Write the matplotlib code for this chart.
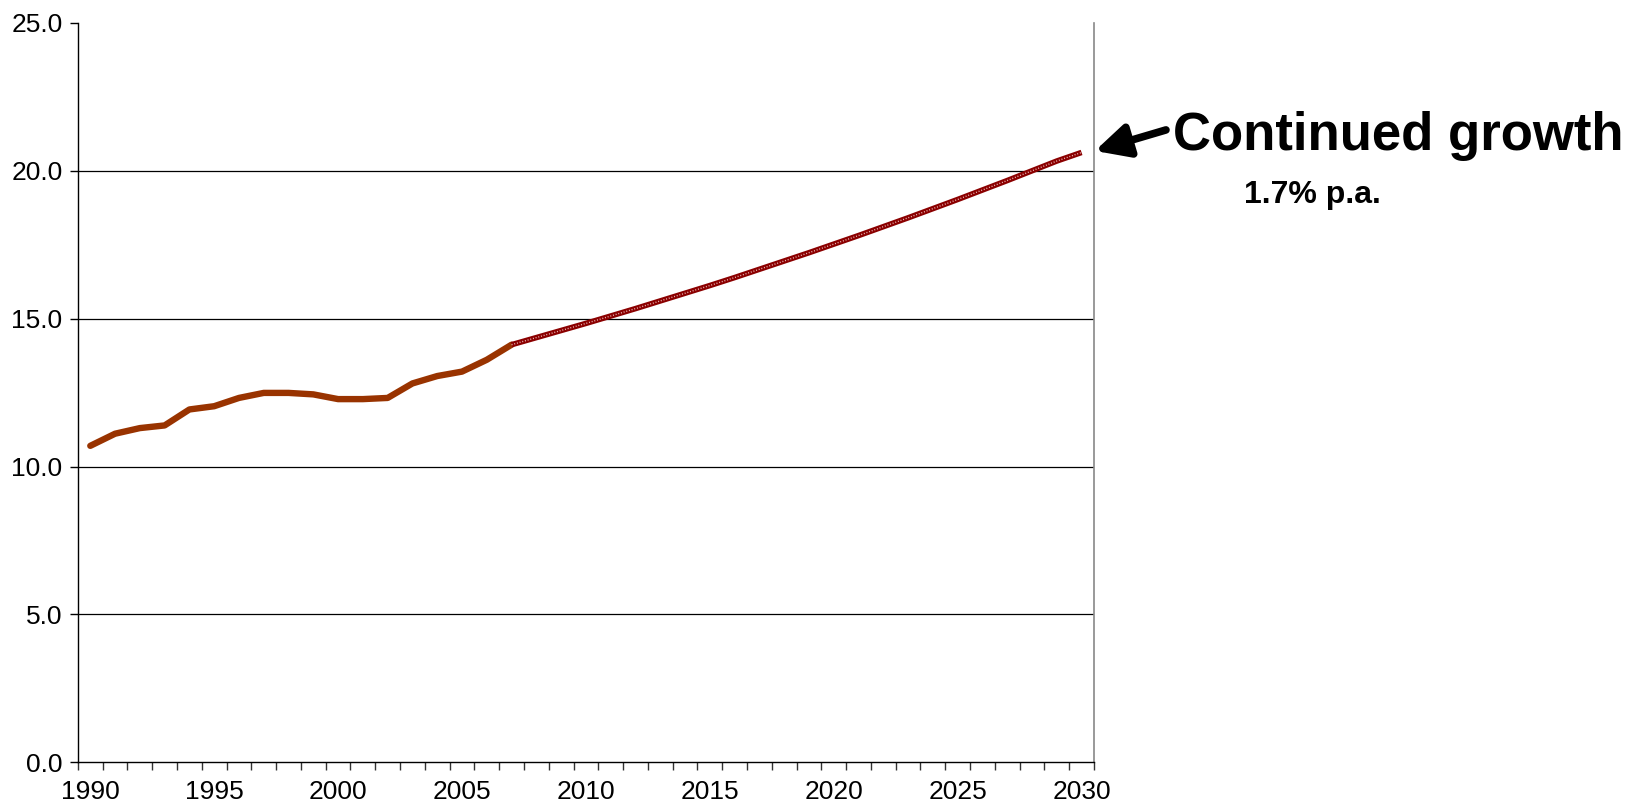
import matplotlib.pyplot as plt
from matplotlib.ticker import FixedLocator, FormatStrFormatter

plt.rcParams['font.family'] = ['Liberation Sans', 'DejaVu Sans']

# Historical values 1990-2007
hist_years = list(range(1990, 2008))
hist_values = [10.70, 11.11, 11.30, 11.39, 11.93, 12.04, 12.32, 12.49, 12.49,
               12.44, 12.28, 12.28, 12.32, 12.81, 13.06, 13.21, 13.61, 14.12]

# Projection 2007-2030
proj_years = list(range(2007, 2031))
proj_values = [14.12, 14.36, 14.60, 14.84, 15.09, 15.34, 15.60, 15.86, 16.12,
               16.39, 16.67, 16.95, 17.23, 17.52, 17.81, 18.11, 18.41, 18.72,
               19.03, 19.35, 19.67, 20.00, 20.33, 20.62]

label_years = [1990, 1995, 2000, 2005, 2010, 2015, 2020, 2025, 2030]
y_ticks = [0, 5, 10, 15, 20, 25]

fig = plt.figure(figsize=(16.33, 8.07), dpi=100)
ax = fig.add_axes([0.0477, 0.0554, 0.6222, 0.9162])

# grid lines first so the data sits on top
for v in y_ticks[1:-1]:
    ax.axhline(v, color='black', lw=0.9, zorder=1)

# historical line
ax.plot(hist_years, hist_values, color='#993300', lw=4.6,
        solid_joinstyle='round', solid_capstyle='round', zorder=3)

# projected line: dark red with a light dotted texture
ax.plot(proj_years, proj_values, color='#8b0000', lw=4.0, zorder=3,
        solid_capstyle='butt')
ax.plot(proj_years, proj_values, color='#f8d0d0', lw=1.0, zorder=4,
        dashes=(0.7, 1.3), alpha=0.9)

ax.set_xlim(1989.5, 2030.5)
ax.set_ylim(0, 25)

# Excel style category axis: tick marks between years, labels every 5 years
ax.xaxis.set_major_locator(FixedLocator(label_years))
ax.xaxis.set_minor_locator(FixedLocator([y - 0.5 for y in range(1990, 2032)]))
ax.tick_params(axis='x', which='major', length=0, pad=13, labelsize=19)
ax.tick_params(axis='x', which='minor', length=6, width=1, direction='out', color='#333333')

ax.yaxis.set_major_locator(FixedLocator(y_ticks))
ax.yaxis.set_major_formatter(FormatStrFormatter('%.1f'))
ax.tick_params(axis='y', length=6, width=1, direction='out', pad=5, labelsize=19)

ax.spines['top'].set_visible(False)
ax.spines['right'].set_color('#888888')
ax.spines['right'].set_linewidth(1.2)
ax.spines['left'].set_linewidth(1.0)
ax.spines['bottom'].set_linewidth(1.0)

# annotation on the right
fig.text(0.7185, 0.832, 'Continued growth', fontsize=38, fontweight='bold',
         ha='left', va='center')
fig.text(0.762, 0.758, '1.7% p.a.', fontsize=23, fontweight='bold',
         ha='left', va='center')
ax.annotate('', xy=(0.6705, 0.813), xycoords='figure fraction',
            xytext=(0.714, 0.839), textcoords='figure fraction',
            arrowprops=dict(arrowstyle='-|>,head_length=2.0,head_width=1.0',
                            color='black', lw=5.5, shrinkA=0, shrinkB=0),
            annotation_clip=False)

fig.savefig('out.png', dpi=100)
